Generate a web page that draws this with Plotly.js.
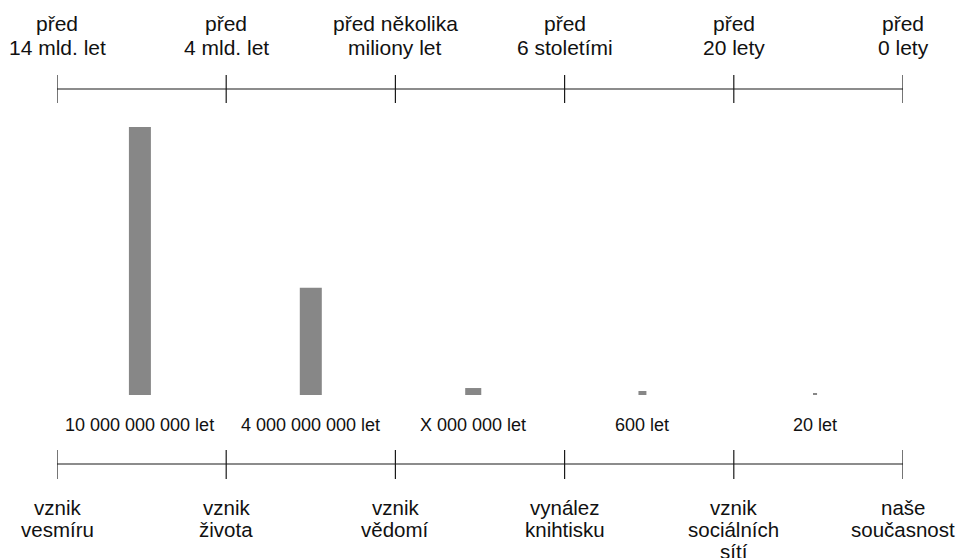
<!DOCTYPE html>
<html>
<head>
<meta charset="utf-8">
<script src="https://cdn.plot.ly/plotly-3.0.1.min.js"></script>
<style>html,body{margin:0;padding:0;background:#fff;}#chart{width:959px;height:558px;}</style>
</head>
<body>
<div id="chart"></div>
<script>
// ---- data ----
const milestones = [0, 1, 2, 3, 4, 5];
const topLabels = ['před<br>14 mld. let', 'před<br>4 mld. let', 'před několika<br>miliony let', 'před<br>6 stoletími', 'před<br>20 lety', 'před<br>0 lety'];
const bottomLabels = ['vznik<br>vesmíru', 'vznik<br>života', 'vznik<br>vědomí', 'vynález<br>knihtisku', 'vznik<br>sociálních<br>sítí', 'naše<br>současnost'];
const barPositions = [0.49, 1.5, 2.46, 3.46, 4.48];
const barValues = [10, 4, 0.26, 0.15, 0.075];
const durationLabels = ['10 000 000 000 let', '4 000 000 000 let', 'X 000 000 let', '600 let', '20 let'];

// ---- styles ----
const font = 'Arial, "Liberation Sans", sans-serif';
const lineColor = '#1a1a1a';
const textColor = '#111111';

const shapes = [];
function timeline(yLine, yTickLo, yTickHi) {
  shapes.push({type: 'line', xref: 'x', yref: 'paper', x0: milestones[0], x1: milestones[milestones.length - 1], y0: yLine, y1: yLine, line: {color: lineColor, width: 1.2}});
  milestones.forEach(m => shapes.push({type: 'line', xref: 'x', yref: 'paper', x0: m, x1: m, y0: yTickLo, y1: yTickHi, line: {color: lineColor, width: 1.2}}));
}
timeline(1.1418, 1.0896, 1.194);
timeline(-0.2575, -0.3134, -0.2052);

const annotations = [];
function multiline(x, label, y0, spacing, size) {
  label.split('<br>').forEach((line, j) => {
    annotations.push({x: x, y: y0, yshift: -j * spacing, xref: 'x', yref: 'paper', text: line, showarrow: false,
      xanchor: 'center', yanchor: 'middle', font: {family: font, size: size, color: textColor}});
  });
}
milestones.forEach((m, i) => {
  multiline(m, topLabels[i], 1.388, 24.5, 21);
  multiline(m, bottomLabels[i], -0.4216, 22, 20.5);
});
barPositions.forEach((p, i) => {
  annotations.push({x: p, y: -0.112, xref: 'x', yref: 'paper', text: durationLabels[i], showarrow: false,
    xanchor: 'center', yanchor: 'middle', font: {family: font, size: 18, color: textColor}});
});

const traces = [{
  type: 'bar',
  x: barPositions,
  y: barValues,
  width: [0.13, 0.13, 0.095, 0.047, 0.024],
  marker: {color: '#878787'},
  hoverinfo: 'skip'
}];

const layout = {
  width: 959, height: 558,
  margin: {l: 57, r: 56, t: 127, b: 163},
  paper_bgcolor: '#ffffff', plot_bgcolor: '#ffffff',
  showlegend: false,
  xaxis: {range: [0, 5], visible: false, fixedrange: true},
  yaxis: {range: [0, 10], visible: false, fixedrange: true},
  shapes: shapes,
  annotations: annotations
};

Plotly.newPlot('chart', traces, layout, {displayModeBar: false, staticPlot: true});
</script>
</body>
</html>
